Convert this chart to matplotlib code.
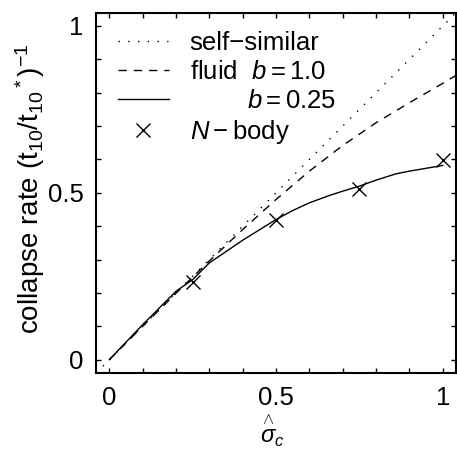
import numpy as np
import matplotlib
matplotlib.use("Agg")
import matplotlib.pyplot as plt
from matplotlib.ticker import MultipleLocator, FixedLocator

plt.rcParams['font.family'] = ['Liberation Sans', 'DejaVu Sans']
plt.rcParams['mathtext.fontset'] = 'custom'
plt.rcParams['mathtext.rm'] = 'Liberation Sans'
plt.rcParams['mathtext.it'] = 'Liberation Sans:italic'
plt.rcParams['mathtext.bf'] = 'Liberation Sans:bold'

# self-similar: rate = sigma
ss_x = [-0.04, 1.04]
ss_y = [-0.04, 1.04]

# fluid b = 1.0
fl1_x = [0.0, 0.1, 0.2, 0.3, 0.4, 0.5, 0.6, 0.7, 0.8, 0.9, 1.0, 1.04]
fl1_y = [0.0, 0.1, 0.199, 0.296, 0.39, 0.48, 0.565, 0.642, 0.71, 0.77, 0.828, 0.852]

# fluid b = 0.25
fl2_x = [0.0, 0.1, 0.2, 0.25, 0.3, 0.4, 0.5, 0.55, 0.6, 0.66, 0.7, 0.75, 0.8, 0.86, 0.9, 1.0]
fl2_y = [0.0, 0.105, 0.205, 0.24, 0.29, 0.358, 0.42, 0.447, 0.47, 0.492, 0.505, 0.52, 0.538, 0.557, 0.565, 0.582]

# N-body
nb_x = [0.25, 0.5, 0.75, 1.0]
nb_y = [0.233, 0.418, 0.512, 0.597]

fig = plt.figure(figsize=(4.57, 4.50), dpi=100)
ax = fig.add_axes([0.210, 0.171, 0.788, 0.801])

ax.plot(ss_x, ss_y, color='black', lw=1.0, linestyle=(0, (1, 6)), label='self\u2212similar')
ax.plot(fl1_x, fl1_y, color='black', lw=1.0, linestyle=(0, (6, 5)), label='fluid  $b=1.0$')
ax.plot(fl2_x, fl2_y, color='black', lw=1.0, linestyle='-', label='        $b=0.25$')
ax.plot(nb_x, nb_y, color='black', lw=0, marker='x', markersize=10, markeredgewidth=1.0,
        label='$N-$body')

ax.set_xlim(-0.04, 1.04)
ax.set_ylim(-0.04, 1.04)

for axis in (ax.xaxis, ax.yaxis):
    axis.set_major_locator(FixedLocator([0, 0.5, 1]))
    axis.set_minor_locator(MultipleLocator(0.1))
ax.set_xticklabels(['0', '0.5', '1'])
ax.set_yticklabels(['0', '0.5', '1'])
ax.tick_params(which='both', direction='in', top=True, right=True, width=1.0, labelsize=18.5)
ax.tick_params(which='major', length=3.5)
ax.tick_params(which='minor', length=3.5)
ax.tick_params(axis='x', pad=9)
ax.tick_params(axis='y', pad=9)
for s in ax.spines.values():
    s.set_linewidth(1.5)

ax.set_xlabel(r'$\overset{\wedge}{\sigma}_c$', fontsize=17)
ax.set_ylabel(r'collapse rate (t$_{10}$/t$_{10}$$^*$)$^{-1}$', fontsize=20)
ax.yaxis.set_label_coords(-0.135, 0.51)
ax.xaxis.set_label_coords(0.49, -0.11)

leg = ax.legend(loc='upper left', frameon=False, fontsize=18.5, handlelength=2.0,
                handletextpad=0.8, labelspacing=0.2, borderaxespad=0.3)
leg.set_bbox_to_anchor((0.01, 1.0), transform=ax.transAxes)

fig.savefig('out.png', dpi=100)
